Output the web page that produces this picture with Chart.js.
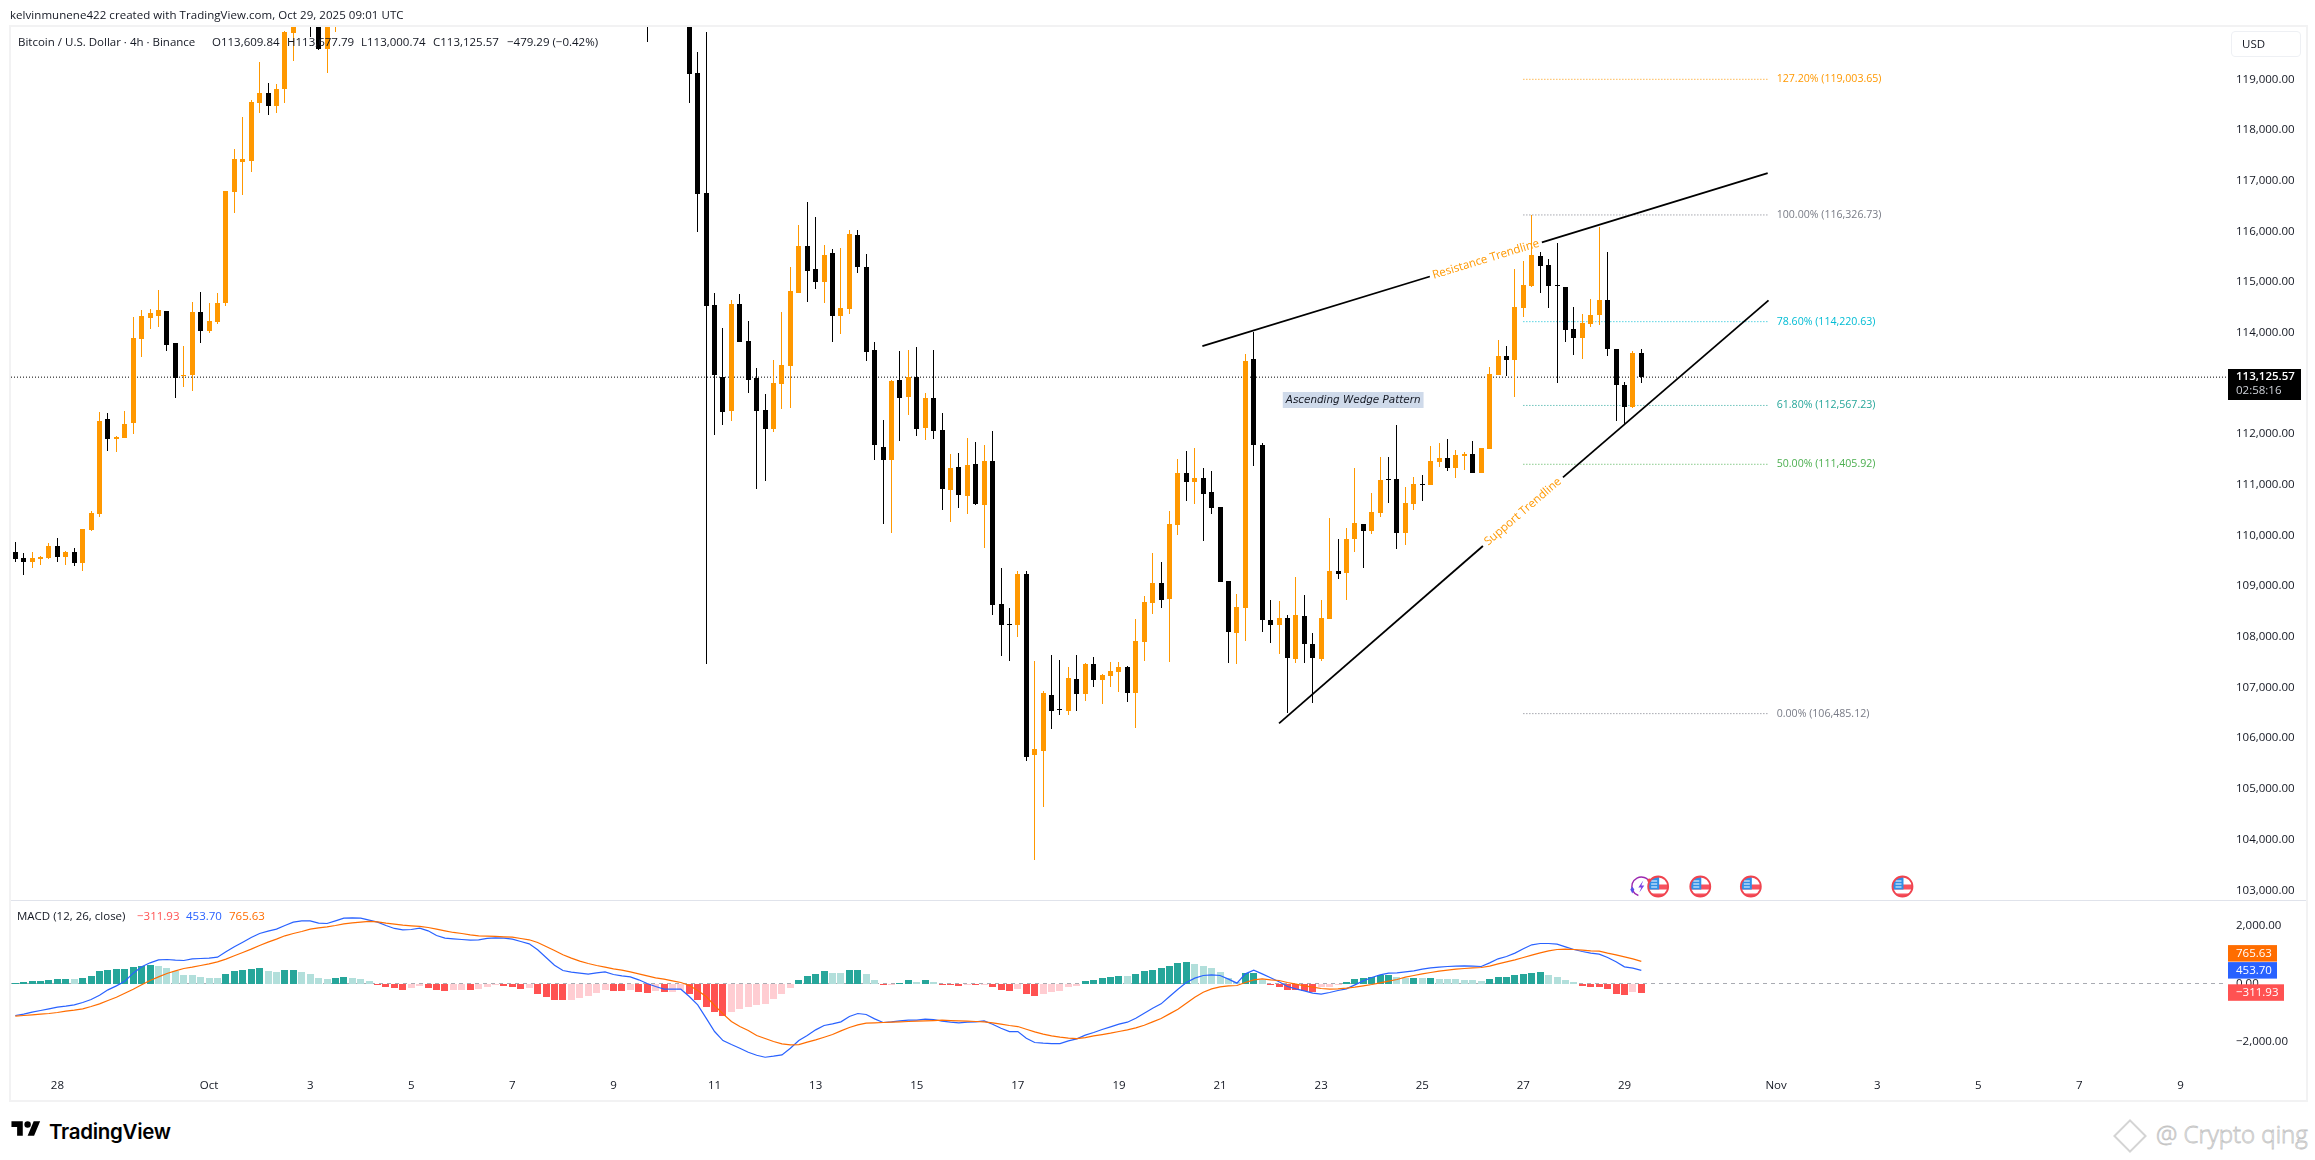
<!DOCTYPE html>
<html>
<head>
<meta charset="utf-8">
<title>BTCUSD 4h</title>
<script src="https://cdn.jsdelivr.net/npm/chart.js@4"></script>
<style>
  html, body { margin: 0; padding: 0; background: #fff; }
  body { width: 2315px; height: 1160px; position: relative; overflow: hidden; font-family: "Open Sans", sans-serif; color: #131722; }
  canvas { position: absolute; left: 0; }
  #priceChart { top: 0; }
  #macdChart { top: 901px; }
  .frame { position: absolute; left: 9px; top: 25px; width: 2295px; height: 1073px; border: 2px solid #f2f2f3; }
  .sep { position: absolute; left: 11px; top: 900px; width: 2295px; height: 1px; background: #e0e3eb; }
  .txt { position: absolute; white-space: pre; font-size: 11.5px; line-height: 16px; }
  .usd { position: absolute; left: 2231px; top: 31px; width: 58px; height: 24px; padding-left: 10px; border: 1px solid #eef0f4; border-radius: 4px; font-size: 11.5px; line-height: 24px; }
  .brand { position: absolute; left: 49px; top: 1118px; font-family: Inter, sans-serif; font-weight: 600; font-size: 20.5px; line-height: 28px; letter-spacing: -0.3px; color: #000; }
  .logo { position: absolute; left: 11px; top: 1118px; }
  .mark { position: absolute; left: 2156px; top: 1118px; font-size: 24px; line-height: 32px; font-weight: 300; white-space: pre; color: #fff; -webkit-text-stroke: 0.8px #c4c4c4; }
  .gem { position: absolute; left: 2118px; top: 1124px; width: 20px; height: 20px; border: 2px solid #d4d4d4; transform: rotate(45deg); }
</style>
</head>
<body>
<div class="frame"></div>
<canvas id="priceChart" width="2315" height="901"></canvas>
<canvas id="macdChart" width="2315" height="199"></canvas>
<div class="sep"></div>
<div class="txt" style="left:10px;top:7px;letter-spacing:0.05px">kelvinmunene422 created with TradingView.com, Oct 29, 2025 09:01 UTC</div>
<div class="txt" style="left:18px;top:34px">Bitcoin / U.S. Dollar · 4h · Binance</div>
<div class="txt" style="left:212px;top:34px">O113,609.84</div>
<div class="txt" style="left:287px;top:34px">H113,677.79</div>
<div class="txt" style="left:361px;top:34px">L113,000.74</div>
<div class="txt" style="left:433px;top:34px">C113,125.57</div>
<div class="txt" style="left:507px;top:34px">−479.29 (−0.42%)</div>
<div class="txt" style="left:17px;top:908px">MACD (12, 26, close)</div>
<div class="txt" style="left:137px;top:908px;color:#ff5252">−311.93</div>
<div class="txt" style="left:186px;top:908px;color:#2962ff">453.70</div>
<div class="txt" style="left:229px;top:908px;color:#ff6d00">765.63</div>
<div class="usd">USD</div>
<svg class="logo" width="30" height="21" viewBox="0 0 36 26"><path d="M14 22H7V11H0V4h14v18zM28 22h-8l7.5-18h8L28 22z" fill="#000"/><circle cx="20" cy="8" r="4" fill="#000"/></svg>
<div class="brand">TradingView</div>
<div class="gem"></div>
<div class="mark">@ Crypto qing</div>

<script>
// 4h candles, index 0 = Sep 27 04:00. The run from 39 to 74 and 76 to 79 sits above the visible pane
const opens = [
  109670,109557,109474,109534,109557,109791,109572,109670,109459,110108,
  110425,112298,111913,111921,112223,113877,114292,114330,114428,113801,
  113144,113167,114413,114036,114217,114587,116770,117374,117389,118537,
  118734,118477,118809,119919,120400,120500,120300,119610,120300,
  null,null,null,null,null,null,null,null,null,null,null,null,null,null,null,null,null,null,
  null,null,null,null,null,null,null,null,null,null,null,null,null,null,null,null,null,null,
  121000,null,null,null,null,
  120300,119128,116760,114549,113128,112457,114569,113839,113108,112477,
  112102,112990,113345,114786,115714,115260,115003,115576,114332,114470,
  115931,115299,113661,111747,111490,113069,112733,113128,112122,112714,
  112082,110898,111352,110779,111411,110598,111470,108649,108254,108234,
  109241,105668,105747,106853,106580,106537,107168,106872,107464,107149,
  107228,107306,107405,106892,107899,108668,109063,108747,110202,111233,
  111063,111143,110859,110563,109103,108076,108575,113483,111786,108332,
  108233,108372,107562,108411,107858,107562,108352,109299,109260,109931,
  110227,110089,110444,111120,111115,110049,110622,111020,110997,111451,
  111530,111332,111569,111608,111233,111707,113168,113543,113464,114491,
  114925,115517,115339,114945,114905,114076,113898,114175,114353,114649,
  113681,112971,112537,113609.84
];
const closes = [
  109534,109474,109557,109572,109791,109572,109670,109459,110131,110441,
  112261,111913,111944,112200,113900,114330,114391,114451,113756,113114,
  113167,114413,114036,114232,114587,116800,117427,117427,118552,118734,
  118477,118809,119935,120200,120200,120200,119610,120300,120600,
  null,null,null,null,null,null,null,null,null,null,null,null,null,null,null,null,null,null,
  null,null,null,null,null,null,null,null,null,null,null,null,null,null,null,null,null,null,
  120500,null,null,null,null,
  119115,116747,114536,113168,112437,114569,113819,113069,112457,112102,
  113010,113365,114826,115714,115220,115003,115536,114332,114490,115950,
  115299,113621,111786,111490,113049,112714,113128,112102,112714,112062,
  110918,111332,110799,111391,110621,111470,108638,108234,108241,109241,
  105629,105787,106892,106537,106560,107188,106872,107464,107149,107247,
  107326,107405,106892,107918,108688,109063,108728,110228,111233,111052,
  111143,110814,110542,109083,108096,108589,113444,111786,108332,108233,
  108372,107582,108431,107858,107582,108372,109299,109240,109931,110247,
  110089,110464,111095,111100,110049,110641,111016,111000,111470,111530,
  111332,111589,111608,111233,111727,113187,113543,113464,114510,114945,
  115537,115320,114925,114930,114056,113898,114195,114353,114649,113681,
  112971,112537,113602,113125.57
];
const highs = [
  109881,109655,109670,109594,109844,109949,109685,109753,110131,110486,
  112434,112419,111974,112457,114315,114451,114466,114851,114428,113809,
  113741,114610,114806,114587,114783,116800,117631,118258,118590,119345,
  118930,118907,119950,120300,120500,120700,120400,120400,120800,
  null,null,null,null,null,null,null,null,null,null,null,null,null,null,null,null,null,null,
  null,null,null,null,null,null,null,null,null,null,null,null,null,null,null,null,null,null,
  121200,null,null,null,null,
  120500,119543,119937,114786,114095,114648,114766,114233,113306,112793,
  113464,114411,115299,116128,116582,116286,115733,115655,115674,116030,
  116030,115556,113819,112280,113069,113641,113661,113720,112812,113661,
  112418,111608,111628,111924,111845,111786,112062,109359,108570,109300,
  109300,107524,106931,107642,107543,107405,107642,107484,107603,107267,
  107504,107504,107425,108353,108806,109655,109478,110484,111505,111675,
  111732,111335,111279,110563,109103,108846,113582,114016,111819,108727,
  108707,108431,109181,108826,108076,108727,110345,109931,110148,111332,
  110227,110839,111549,111549,112174,110957,111155,111194,111766,111826,
  111905,111687,111648,111865,111727,113326,113859,113740,115260,115418,
  116326,115596,115458,115774,114905,114510,114372,114668,116089,115596,
  113681,113030,113642,113677.79
];
const lows = [
  109481,109224,109368,109421,109534,109481,109421,109406,109308,110093,
  110373,111664,111649,111921,111996,113522,114073,114111,113643,112714,
  112933,112850,113801,113998,114172,114527,116362,116717,117178,118341,
  118303,118341,118537,119368,120030,119829,119587,119126,119935,
  null,null,null,null,null,null,null,null,null,null,null,null,null,null,null,null,null,null,
  null,null,null,null,null,null,null,null,null,null,null,null,null,null,null,null,null,null,
  119740,null,null,null,null,
  118543,115997,107460,111983,112181,112260,113819,112812,110918,111075,
  112043,112497,112516,114786,114608,114865,114589,113819,113977,114372,
  115181,113444,111490,110225,110055,111865,112378,111963,111885,111905,
  110508,110259,110542,110429,110598,109749,108423,107622,107524,107997,
  105550,103596,104642,106182,106458,106458,106537,106734,107010,106675,
  107010,106912,106714,106201,107524,108451,108570,107504,110010,110678,
  110621,109899,110429,109083,107484,107464,107924,111378,108102,107885,
  107668,106503,107490,107490,106701,107529,108352,109148,108733,109681,
  109365,110036,110365,110648,109740,109812,110503,110681,110997,111352,
  111273,111135,111293,111233,111233,111707,113168,113141,112740,114313,
  114912,114787,114491,113017,113820,113563,113484,114116,114155,113543,
  112260,112201,112517,113000.74
];

const macdHist = [
  23,58,92,98,138,161,172,161,207,264,
  414,460,483,489,575,610,644,598,518,414,
  310,299,230,196,184,322,426,460,495,518,
  437,402,449,454,402,334,196,161,196,230,
  196,161,80,-46,-115,-172,-207,-138,-92,-138,
  -218,-253,-230,-222,-240,-196,-115,-46,-69,-115,
  -184,-172,-356,-460,-552,-556,-552,-483,-425,-322,
  -230,-253,-258,-207,-288,-322,-253,-288,-280,-230,
  -345,-575,-805,-978,-1115,-978,-886,-805,-748,-690,
  -540,-345,-150,138,253,334,414,368,356,449,
  460,345,138,-46,-12,23,104,58,104,58,
  -35,-46,-80,-35,-46,-23,-115,-230,-253,-184,
  -356,-414,-345,-288,-253,-115,-69,92,138,207,
  230,276,265,334,414,460,518,598,690,725,
  656,598,518,380,196,35,368,374,115,-58,
  -115,-207,-230,-265,-299,-115,-110,-58,69,172,
  207,241,288,310,230,196,207,196,207,172,
  161,155,127,104,100,172,230,241,299,334,
  368,380,310,241,138,35,-80,-104,-108,-196,
  -345,-380,-305,-311.93
];
const macdLine = [
  -1104,-1058,-989,-932,-874,-817,-782,-736,-656,-552,
  -403,-219,-81,81,357,575,713,817,828,805,
  794,851,863,874,909,1093,1265,1426,1587,1725,
  1806,1875,2001,2116,2162,2162,2082,2070,2162,2254,
  2266,2254,2185,2116,2001,1898,1852,1863,1909,1817,
  1656,1564,1541,1518,1495,1507,1553,1576,1564,1530,
  1449,1369,1162,897,633,449,391,357,322,368,
  403,311,265,230,127,0,-104,-196,-196,-196,
  -449,-736,-1196,-1656,-1967,-2105,-2231,-2369,-2473,-2542,
  -2507,-2461,-2231,-1967,-1794,-1598,-1449,-1392,-1322,-1138,
  -1035,-1069,-1219,-1345,-1322,-1288,-1265,-1265,-1230,-1242,
  -1299,-1334,-1357,-1334,-1322,-1288,-1403,-1541,-1656,-1656,
  -1886,-2035,-2058,-2070,-2070,-1978,-1909,-1782,-1690,-1587,
  -1495,-1403,-1334,-1196,-1023,-851,-702,-449,-196,35,
  184,276,299,276,150,12,333,460,333,196,
  58,-104,-184,-253,-334,-368,-311,-242,-184,-46,
  92,207,299,357,368,403,437,495,541,564,
  587,598,610,598,587,713,851,932,1047,1196,
  1334,1380,1380,1357,1265,1173,1104,1047,1012,897,
  748,575,529,453.70
];
const macdSignal = [
  -1127,-1104,-1081,-1058,-1035,-1000,-954,-920,-874,-794,
  -702,-587,-472,-334,-196,-46,104,230,345,437,
  518,564,621,679,748,840,955,1070,1185,1311,
  1426,1530,1645,1725,1794,1875,1921,1955,2001,2059,
  2093,2116,2139,2128,2082,2047,2013,1990,1967,1932,
  1875,1817,1760,1725,1679,1645,1633,1622,1610,1599,
  1553,1507,1415,1277,1139,990,874,771,690,621,
  564,506,460,403,334,265,196,150,92,35,
  -69,-242,-449,-759,-1047,-1311,-1484,-1622,-1794,-1898,
  -2001,-2082,-2116,-2105,-2024,-1944,-1852,-1760,-1633,-1518,
  -1426,-1369,-1357,-1345,-1334,-1322,-1311,-1300,-1288,-1277,
  -1265,-1277,-1288,-1300,-1311,-1322,-1357,-1403,-1449,-1484,
  -1576,-1668,-1748,-1806,-1852,-1886,-1898,-1863,-1806,-1760,
  -1714,-1656,-1599,-1530,-1438,-1322,-1208,-1047,-886,-679,
  -472,-299,-184,-115,-81,-69,35,127,161,127,
  104,35,-23,-81,-127,-173,-196,-184,-161,-127,
  -81,-35,23,81,138,219,276,334,380,426,
  460,495,518,541,552,598,679,748,817,897,
  978,1058,1127,1173,1185,1173,1150,1127,1115,1047,
  989,920,851,765.63
];

const timeTicks = [5,23,35,47,59,71,83,95,107,119,131,143,155,167,179,191,209,221,233,245,257];
const timeLabels = ['28','Oct','3','5','7','9','11','13','15','17','19','21','23','25','27','29','Nov','3','5','7','9'];
const priceTicks = [103000,104000,105000,106000,107000,108000,109000,110000,111000,112000,113000,114000,115000,116000,117000,118000,119000];
const macdTicks = [-2000,0,2000];

const lastPrice = 113125.57;
const countdown = '02:58:16';
const fibLevels = [119003.65,116326.73,114220.63,112567.23,111405.92,106485.12];
const fibPercents = ['127.20%','100.00%','78.60%','61.80%','50.00%','0.00%'];
const fibColors = ['#ff9800','#787b86','#00bcd4','#26a69a','#4caf50','#787b86'];
const fibRange = [179,208];
const resistanceLeft = [[140.9,113740],[167.9,115112]];
const resistanceRight = [[181.2,115787],[208,117151]];
const supportLeft = [[150,106294],[174.2,109793]];
const supportRight = [[183.7,111149],[208.1,114642]];
const eventBars = [195,200,206,224];
const earningsBar = 193;

const xMin = -0.51, xMax = 262.4;
const ORANGE = '#ff9800';

const fmt = (v) => v.toLocaleString('en-US', { minimumFractionDigits: 2, maximumFractionDigits: 2 }).replace('-', '−');
const toPoints = (pairs) => pairs.map(([x, y]) => ({ x, y }));
const lineSet = (data, color, width, dash, order) => ({
  type: 'line', data, borderColor: color, borderWidth: width, borderDash: dash || [],
  pointRadius: 0, fill: false, order, borderCapStyle: 'butt',
});
// the axes must not eat into the pane for their end labels
const noAxisPadding = (axis) => { axis.paddingTop = 0; axis.paddingBottom = 0; axis.paddingLeft = 0; axis.paddingRight = 0; };

const candleIdx = opens.map((_, i) => i).filter((i) => opens[i] !== null);
const candleColors = candleIdx.map((i) => (closes[i] >= opens[i] ? ORANGE : '#000000'));

// keeps wicks one pixel sharp instead of smeared over two columns
const snapBars = {
  id: 'snapBars',
  afterDatasetsUpdate(chart) {
    chart.data.datasets.forEach((ds, k) => {
      if (ds.type === 'line') return;
      chart.getDatasetMeta(k).data.forEach((bar) => {
        bar.x = Math.floor(bar.x) + 0.5;
        bar.y = Math.round(bar.y);
        bar.base = Math.round(bar.base);
        if (bar.base === bar.y) bar.base = bar.y + 1;
      });
    });
  },
};

const drawFlag = (ctx, x, y) => {
  const r = 10;
  ctx.save();
  ctx.beginPath();
  ctx.arc(x, y, r, 0, Math.PI * 2);
  ctx.fillStyle = '#fff';
  ctx.fill();
  ctx.clip();
  ctx.fillStyle = '#f7525f';
  ctx.fillRect(x - r, y - 2, r * 2, 5);
  ctx.fillRect(x - r, y + 7, r * 2, 4);
  ctx.fillStyle = '#2f8fe6';
  ctx.fillRect(x - r, y - r, r + 1, r + 3);
  ctx.fillStyle = '#fff';
  for (let a = 0; a < 3; a++) ctx.fillRect(x - 7, y - 6 + a * 3, 6, 1);
  ctx.restore();
  ctx.beginPath();
  ctx.arc(x, y, r, 0, Math.PI * 2);
  ctx.strokeStyle = '#f0444f';
  ctx.lineWidth = 1.8;
  ctx.stroke();
};

const drawEarnings = (ctx, x, y) => {
  ctx.save();
  ctx.strokeStyle = '#9c27b0';
  ctx.lineWidth = 1.4;
  ctx.beginPath();
  ctx.arc(x, y, 9.5, Math.PI * 0.6, Math.PI * 1.9);
  ctx.stroke();
  ctx.fillStyle = '#7b3fe4';
  ctx.beginPath();
  ctx.moveTo(x + 2, y - 6);
  ctx.lineTo(x - 3, y + 1);
  ctx.lineTo(x, y + 1);
  ctx.lineTo(x - 2, y + 6);
  ctx.lineTo(x + 3, y - 1);
  ctx.lineTo(x, y - 1);
  ctx.closePath();
  ctx.fill();
  ctx.fillStyle = '#5b4fe8';
  ctx.beginPath();
  ctx.moveTo(x - 9, y + 0);
  ctx.lineTo(x - 7, y + 3);
  ctx.lineTo(x - 9, y + 7);
  ctx.lineTo(x - 11, y + 3);
  ctx.closePath();
  ctx.fill();
  ctx.fillStyle = '#f0444f';
  ctx.beginPath();
  ctx.arc(x + 8, y - 6, 2, 0, Math.PI * 2);
  ctx.fill();
  ctx.restore();
};

const rotatedLabel = (ctx, text, pixelFrom, pixelTo) => {
  const angle = Math.atan2(pixelTo.y - pixelFrom.y, pixelTo.x - pixelFrom.x);
  ctx.save();
  ctx.translate((pixelFrom.x + pixelTo.x) / 2, (pixelFrom.y + pixelTo.y) / 2);
  ctx.rotate(angle);
  ctx.font = '11.5px "Open Sans"';
  ctx.fillStyle = ORANGE;
  ctx.textAlign = 'center';
  ctx.textBaseline = 'middle';
  ctx.fillText(text, 0, 0);
  ctx.restore();
};

const drawTag = (ctx, left, cy, width, height, color, text, textColor) => {
  ctx.fillStyle = color;
  ctx.fillRect(left, cy - height / 2, width, height);
  ctx.fillStyle = textColor;
  ctx.textAlign = 'left';
  ctx.textBaseline = 'middle';
  ctx.fillText(text, left + 8, cy);
};

const priceNotes = {
  id: 'priceNotes',
  afterDatasetsDraw(chart) {
    const { ctx, scales: { x, y }, chartArea } = chart;
    const px = ([a, b]) => ({ x: x.getPixelForValue(a), y: y.getPixelForValue(b) });
    ctx.save();

    ctx.font = '10.6px "Open Sans"';
    ctx.textAlign = 'left';
    ctx.textBaseline = 'middle';
    fibLevels.forEach((level, i) => {
      ctx.fillStyle = fibColors[i];
      ctx.fillText(`${fibPercents[i]} (${fmt(level)})`, x.getPixelForValue(fibRange[1]) + 9, y.getPixelForValue(level));
    });

    rotatedLabel(ctx, 'Resistance Trendline', px(resistanceLeft[1]), px(resistanceRight[0]));
    rotatedLabel(ctx, 'Support Trendline', px(supportLeft[1]), px(supportRight[0]));

    const wedge = 'Ascending Wedge Pattern';
    const wx = x.getPixelForValue(158.8), wy = y.getPixelForValue(112675);
    ctx.font = 'italic 10.4px "DejaVu Sans"';
    const ww = ctx.measureText(wedge).width + 6;
    ctx.fillStyle = '#cfdaea';
    ctx.fillRect(wx - ww / 2, wy - 8, ww, 16);
    ctx.fillStyle = '#131722';
    ctx.textAlign = 'center';
    ctx.fillText(wedge, wx, wy);

    const iconY = chartArea.bottom - 13.5;
    drawEarnings(ctx, x.getPixelForValue(earningsBar), iconY);
    eventBars.forEach((b) => drawFlag(ctx, x.getPixelForValue(b), iconY));

    ctx.font = '600 11.5px "Open Sans"';
    const ty = Math.round(y.getPixelForValue(lastPrice));
    drawTag(ctx, chartArea.right + 2, ty + 7.5, 73, 31, '#000', '', '#fff');
    ctx.fillStyle = '#fff';
    ctx.fillText(fmt(lastPrice), chartArea.right + 10, ty);
    ctx.font = '11.5px "Open Sans"';
    ctx.fillStyle = '#cfd2d9';
    ctx.fillText(countdown, chartArea.right + 10, ty + 14);
    ctx.restore();
  },
};

const macdNotes = {
  id: 'macdNotes',
  afterDraw(chart) {
    const { ctx, scales: { y }, chartArea } = chart;
    const left = chartArea.right + 2;
    ctx.save();
    ctx.font = '11.5px "Open Sans"';
    // the orange tag is pushed up so it does not sit on the blue one
    drawTag(ctx, left, y.getPixelForValue(453.7) - 17, 49, 16.5, '#ff6d00', fmt(765.63), '#fff');
    drawTag(ctx, left, y.getPixelForValue(453.7), 49, 16.5, '#2962ff', fmt(453.7), '#fff');
    drawTag(ctx, left, y.getPixelForValue(-311.93), 56, 16.5, '#ff5252', fmt(-311.93), '#fff');
    ctx.restore();
  },
};

new Chart(document.getElementById('priceChart'), {
  type: 'bar',
  data: {
    datasets: [
      ...fibLevels.map((level, i) => lineSet(fibRange.map((fx) => ({ x: fx, y: level })), fibColors[i], 1, [1, 2], 6)),
      lineSet([{ x: xMin, y: lastPrice }, { x: xMax, y: lastPrice }], '#000', 1, [1, 2], 5),
      {
        data: candleIdx.map((i) => ({ x: i, y: [lows[i], highs[i]] })),
        backgroundColor: candleColors, barThickness: 1, grouped: false, inflateAmount: 0, order: 3,
      },
      {
        data: candleIdx.map((i) => ({ x: i, y: [opens[i], closes[i]] })),
        backgroundColor: candleColors, barThickness: 5, grouped: false, inflateAmount: 0, order: 2,
      },
      lineSet(toPoints(resistanceLeft), '#000', 1.8, null, 1),
      lineSet(toPoints(resistanceRight), '#000', 1.8, null, 1),
      lineSet(toPoints(supportLeft), '#000', 1.8, null, 1),
      lineSet(toPoints(supportRight), '#000', 1.8, null, 1),
    ],
  },
  options: {
    responsive: false, animation: false, devicePixelRatio: 1,
    layout: { autoPadding: false, padding: { left: 11, right: 9, top: 27, bottom: 1 } },
    plugins: { legend: { display: false }, tooltip: { enabled: false } },
    scales: {
      x: { type: 'linear', min: xMin, max: xMax, offset: false, display: false },
      y: {
        position: 'right', min: 102807, max: 120036,
        afterBuildTicks: (axis) => { axis.ticks = priceTicks.map((value) => ({ value })); },
        afterFit: (axis) => { axis.width = 80; noAxisPadding(axis); },
        grid: { display: false, drawTicks: false }, border: { display: false },
        ticks: { padding: 10, color: '#131722', font: { family: 'Open Sans', size: 11.5 }, callback: (v) => fmt(v) },
      },
    },
  },
  plugins: [snapBars, priceNotes],
});

const histColors = macdHist.map((v, i) => {
  const prev = i ? macdHist[i - 1] : 0;
  if (v >= 0) return v >= prev ? '#26a69a' : '#b2dfdb';
  return v < prev ? '#ff5252' : '#ffcdd2';
});

new Chart(document.getElementById('macdChart'), {
  type: 'bar',
  data: {
    datasets: [
      lineSet([{ x: xMin, y: 0 }, { x: xMax, y: 0 }], '#a9abb2', 1, [4, 4], 4),
      {
        data: macdHist.map((v, i) => ({ x: i, y: v })),
        backgroundColor: histColors, barThickness: 7, grouped: false, inflateAmount: 0, order: 3,
      },
      lineSet(macdLine.map((v, i) => ({ x: i, y: v })), '#2962ff', 1.2, null, 2),
      lineSet(macdSignal.map((v, i) => ({ x: i, y: v })), '#ff6d00', 1.2, null, 1),
    ],
  },
  options: {
    responsive: false, animation: false, devicePixelRatio: 1,
    layout: { autoPadding: false, padding: { left: 11, right: 9, top: 0, bottom: 0 } },
    plugins: { legend: { display: false }, tooltip: { enabled: false } },
    scales: {
      x: {
        type: 'linear', min: xMin, max: xMax, offset: false,
        afterBuildTicks: (axis) => { axis.ticks = timeTicks.map((value) => ({ value })); },
        afterFit: (axis) => { axis.height = 29; noAxisPadding(axis); },
        grid: { display: false, drawTicks: false }, border: { display: false },
        ticks: {
          padding: 8, maxRotation: 0, autoSkip: false, color: '#131722',
          font: { family: 'Open Sans', size: 11.5 },
          callback: (v) => timeLabels[timeTicks.indexOf(v)],
        },
      },
      y: {
        position: 'right', min: -3017, max: 2845,
        afterBuildTicks: (axis) => { axis.ticks = macdTicks.map((value) => ({ value })); },
        afterFit: (axis) => { axis.width = 80; noAxisPadding(axis); },
        grid: { display: false, drawTicks: false }, border: { display: false },
        ticks: { padding: 10, color: '#131722', font: { family: 'Open Sans', size: 11.5 }, callback: (v) => fmt(v) },
      },
    },
  },
  plugins: [snapBars, macdNotes],
});
</script>
</body>
</html>
